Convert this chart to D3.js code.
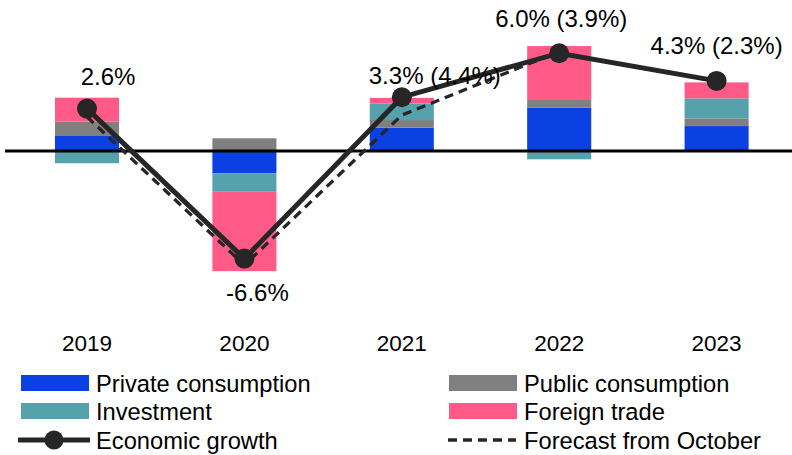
<!DOCTYPE html>
<html>
<head>
<meta charset="utf-8">
<script src="https://cdn.jsdelivr.net/npm/d3@7"></script>
<style>
  body { margin: 0; background: #fff; }
  svg { display: block; font-family: "Liberation Sans", Arial, sans-serif; }
</style>
</head>
<body>
<svg id="chart" width="792" height="455"></svg>
<script>
// ----- data (percentage points of GDP growth) -----
var years = ["2019", "2020", "2021", "2022", "2023"];
var privateCons = [0.92, -1.37, 1.43, 2.66, 1.53];
var publicCons  = [0.88, 0.78, 0.47, 0.47, 0.47];
var investment  = [-0.75, -1.13, 1.02, -0.51, 1.23];
var foreignTrade = [1.47, -4.87, 0.34, 3.31, 0.98];
var growth   = [2.6, -6.6, 3.3, 6.0, 4.3];
var forecast = [2.1, -7.0, 2.2, 6.1];
var growthLabels = ["2.6%", "-6.6%", "3.3% (4.4%)", "6.0% (3.9%)", "4.3% (2.3%)"];

var keys = ["private", "public", "investment", "foreign"];
var names = {"private": "Private consumption", "public": "Public consumption",
             "investment": "Investment", "foreign": "Foreign trade"};
var colors = {"private": "#0b41e3", "public": "#808080",
              "investment": "#55a1ac", "foreign": "#ff5a88"};

var rows = years.map(function(y, i){
  return {year: y, "private": privateCons[i], "public": publicCons[i],
          investment: investment[i], foreign: foreignTrade[i]};
});

//------------SCALES-----------
var svg = d3.select("#chart");
var xScale = d3.scaleBand()
  .domain(years)
  .range([8.3, 795.3])
  .paddingInner(0.593)
  .paddingOuter(0.2965);

var yScale = d3.scaleLinear()
  .domain([-8, 9])
  .range([151 + 8 * 16.3, 151 - 9 * 16.3]);

var cx = function(y){ return xScale(y) + xScale.bandwidth() / 2; };

//------------BARS-----------
var series = d3.stack().keys(keys).offset(d3.stackOffsetDiverging)(rows);

svg.append("g").selectAll("g")
  .data(series)
  .enter().append("g")
  .attr("fill", function(d){ return colors[d.key]; })
  .selectAll("rect")
  .data(function(d){ return d; })
  .enter().append("rect")
  .attr("x", function(d){ return xScale(d.data.year); })
  .attr("width", xScale.bandwidth())
  .attr("y", function(d){ return yScale(Math.max(d[0], d[1])); })
  .attr("height", function(d){ return Math.abs(yScale(d[0]) - yScale(d[1])); });

// zero line
svg.append("line")
  .attr("x1", 5).attr("x2", 792)
  .attr("y1", yScale(0)).attr("y2", yScale(0))
  .attr("stroke", "#000").attr("stroke-width", 3);

//------------LINES-----------
var line = d3.line()
  .x(function(d, i){ return cx(years[i]); })
  .y(function(d){ return yScale(d); });

svg.append("path")
  .datum(forecast)
  .attr("d", line)
  .attr("fill", "none")
  .attr("stroke", "#262626")
  .attr("stroke-width", 3.3)
  .attr("stroke-dasharray", "9,6");

svg.append("path")
  .datum(growth)
  .attr("d", line)
  .attr("fill", "none")
  .attr("stroke", "#262626")
  .attr("stroke-width", 5);

svg.append("g").selectAll("circle")
  .data(growth)
  .enter().append("circle")
  .attr("cx", function(d, i){ return cx(years[i]); })
  .attr("cy", function(d){ return yScale(d); })
  .attr("r", 10)
  .attr("fill", "#262626");

// value labels
var labelDx = [21, 13, 33, 2, 0];
var labelDy = [-24, 42, -13, -26, -27];
svg.append("g").selectAll("text")
  .data(growthLabels)
  .enter().append("text")
  .attr("x", function(d, i){ return cx(years[i]) + labelDx[i]; })
  .attr("y", function(d, i){ return yScale(growth[i]) + labelDy[i]; })
  .attr("text-anchor", "middle")
  .attr("font-size", "24px")
  .attr("fill", "#000")
  .text(function(d){ return d; });

//------------X AXIS-----------
var xAxis = d3.axisBottom(xScale).tickSize(0).tickPadding(0);
var gx = svg.append("g")
  .attr("transform", "translate(0,335)")
  .call(xAxis);
gx.select(".domain").remove();
gx.selectAll("text")
  .attr("font-size", "22.5px")
  .attr("font-family", "Liberation Sans, Arial, sans-serif")
  .attr("fill", "#000")
  .attr("dy", "0.71em");

//------------LEGEND-----------
var legendItems = [
  {type: "rect", key: "private", x: 20, y: 383},
  {type: "rect", key: "public", x: 448, y: 383},
  {type: "rect", key: "investment", x: 20, y: 411},
  {type: "rect", key: "foreign", x: 448, y: 411},
  {type: "growth", label: "Economic growth", x: 18, y: 440},
  {type: "forecast", label: "Forecast from October", x: 448, y: 440}
];

var leg = svg.append("g").selectAll("g")
  .data(legendItems)
  .enter().append("g")
  .attr("transform", function(d){ return "translate(" + d.x + "," + d.y + ")"; });

leg.filter(function(d){ return d.type == "rect"; })
  .append("rect")
  .attr("x", 1).attr("y", -8)
  .attr("width", 68).attr("height", 16)
  .attr("fill", function(d){ return colors[d.key]; });

leg.filter(function(d){ return d.type == "growth"; })
  .each(function(){
    var g = d3.select(this);
    g.append("line").attr("x1", 0).attr("x2", 72).attr("y1", 0).attr("y2", 0)
      .attr("stroke", "#262626").attr("stroke-width", 5);
    g.append("circle").attr("cx", 36).attr("cy", 0).attr("r", 9.5).attr("fill", "#262626");
  });

leg.filter(function(d){ return d.type == "forecast"; })
  .append("line")
  .attr("x1", 0).attr("x2", 68).attr("y1", 0).attr("y2", 0)
  .attr("stroke", "#262626").attr("stroke-width", 3.3)
  .attr("stroke-dasharray", "9,6");

leg.append("text")
  .attr("x", function(d){ return d.type == "growth" ? 78 : 76; })
  .attr("y", 8.5)
  .attr("font-size", "23.7px")
  .attr("fill", "#000")
  .text(function(d){ return d.label || names[d.key]; });
</script>
</body>
</html>
